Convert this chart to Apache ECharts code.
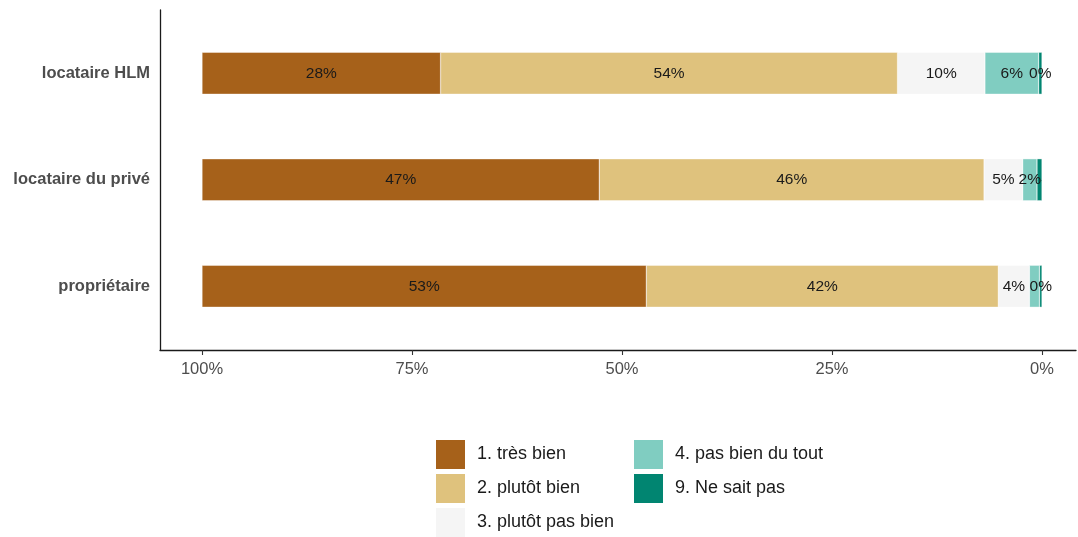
<!DOCTYPE html>
<html>
<head>
<meta charset="utf-8">
<script src="https://cdn.jsdelivr.net/npm/echarts@6/dist/echarts.min.js"></script>
<style>html,body{margin:0;padding:0;background:#fff}#c{width:1078px;height:537px}</style>
</head>
<body>
<div id="c"></div>
<script>
// ---- data ----
const categories = ['locataire HLM', 'locataire du privé', 'propriétaire'];
const seriesNames = ['1. très bien', '2. plutôt bien', '3. plutôt pas bien', '4. pas bien du tout', '9. Ne sait pas'];
const tresBien        = [28.4, 47.3, 52.9];
const plutotBien      = [54.4, 45.8, 41.9];
const plutotPasBien   = [10.4, 4.6, 3.7];
const pasBienDuTout   = [6.4, 1.7, 1.2];
const neSaitPas       = [0.4, 0.6, 0.3];
const xTicks = [0, 25, 50, 75, 100];
// labels not drawn in the reference (overlapping): [series index, category index]
const hiddenLabels = [[4, 1], [3, 2]];

const colors = ['#A6611A', '#DFC27D', '#F5F5F5', '#80CDC1', '#018571'];
const values = [tresBien, plutotBien, plutotPasBien, pasBienDuTout, neSaitPas];
const font = 'Liberation Sans, Arial, sans-serif';

const order = [4, 3, 2, 1, 0]; // stack from 0% (right) to 100% (left)
const series = order.map(si => ({
  name: seriesNames[si],
  type: 'bar',
  stack: 'total',
  xAxisIndex: 1,
  yAxisIndex: 1,
  barWidth: 42,
  itemStyle: { color: colors[si], borderColor: '#ffffff', borderWidth: 0.4 },
  label: {
    show: true, position: 'inside', color: '#1a1a1a', fontSize: 15.5, fontFamily: font,
    formatter: p => Math.round(p.value) + '%'
  },
  data: values[si].map((v, ci) => {
    const hide = hiddenLabels.some(h => h[0] === si && h[1] === ci);
    return hide ? { value: v, label: { show: false } } : v;
  })
}));

const legendBase = {
  orient: 'vertical', itemWidth: 31, itemHeight: 31, itemGap: 3,
  icon: 'rect', selectedMode: false, padding: 0,
  textStyle: { fontSize: 18, color: '#1a1a1a', fontFamily: font, padding: [3, 0, 0, 6] }
};

const chart = echarts.init(document.getElementById('c'), null, { renderer: 'canvas' });
chart.setOption({
  backgroundColor: '#ffffff',
  animation: false,
  textStyle: { fontFamily: font },
  grid: [
    { left: 160, top: 10, width: 916, height: 340 },
    { left: 202, top: 20, width: 840, height: 319.5 }
  ],
  xAxis: [
    { gridIndex: 0, type: 'value', min: 0, max: 1, axisLine: { show: true, lineStyle: { color: '#1a1a1a', width: 1.3 } },
      axisTick: { show: false }, axisLabel: { show: false }, splitLine: { show: false } },
    { gridIndex: 1, type: 'value', inverse: true, min: xTicks[0], max: xTicks[xTicks.length - 1], interval: 25,
      position: 'bottom', offset: 10.5,
      axisLine: { show: false },
      axisTick: { show: true, length: 5, lineStyle: { color: '#333', width: 1.1 } },
      axisLabel: { formatter: '{value}%', color: '#4d4d4d', fontSize: 16.5, fontFamily: font, margin: 11 },
      splitLine: { show: false } }
  ],
  yAxis: [
    { gridIndex: 0, type: 'value', min: 0, max: 1, axisLine: { show: true, lineStyle: { color: '#1a1a1a', width: 1.3 } },
      axisTick: { show: false }, axisLabel: { show: false }, splitLine: { show: false } },
    { gridIndex: 1, type: 'category', inverse: true, data: categories, offset: 42,
      axisLine: { show: false },
      axisTick: { show: true, alignWithLabel: true, length: 5, lineStyle: { color: '#333', width: 1.1 } },
      axisLabel: { color: '#4d4d4d', fontSize: 16.5, fontWeight: 'bold', fontFamily: font, margin: 10 } }
  ],
  legend: [
    Object.assign({}, legendBase, { data: seriesNames.slice(0, 1), left: 434, top: 438 }),
    Object.assign({}, legendBase, { data: seriesNames.slice(1, 2), left: 434, top: 472 }),
    Object.assign({}, legendBase, { data: seriesNames.slice(2, 3), left: 434, top: 506 }),
    Object.assign({}, legendBase, { data: seriesNames.slice(3, 4), left: 632, top: 438 }),
    Object.assign({}, legendBase, { data: seriesNames.slice(4, 5), left: 632, top: 472 })
  ],
  series: series
});
</script>
</body>
</html>
